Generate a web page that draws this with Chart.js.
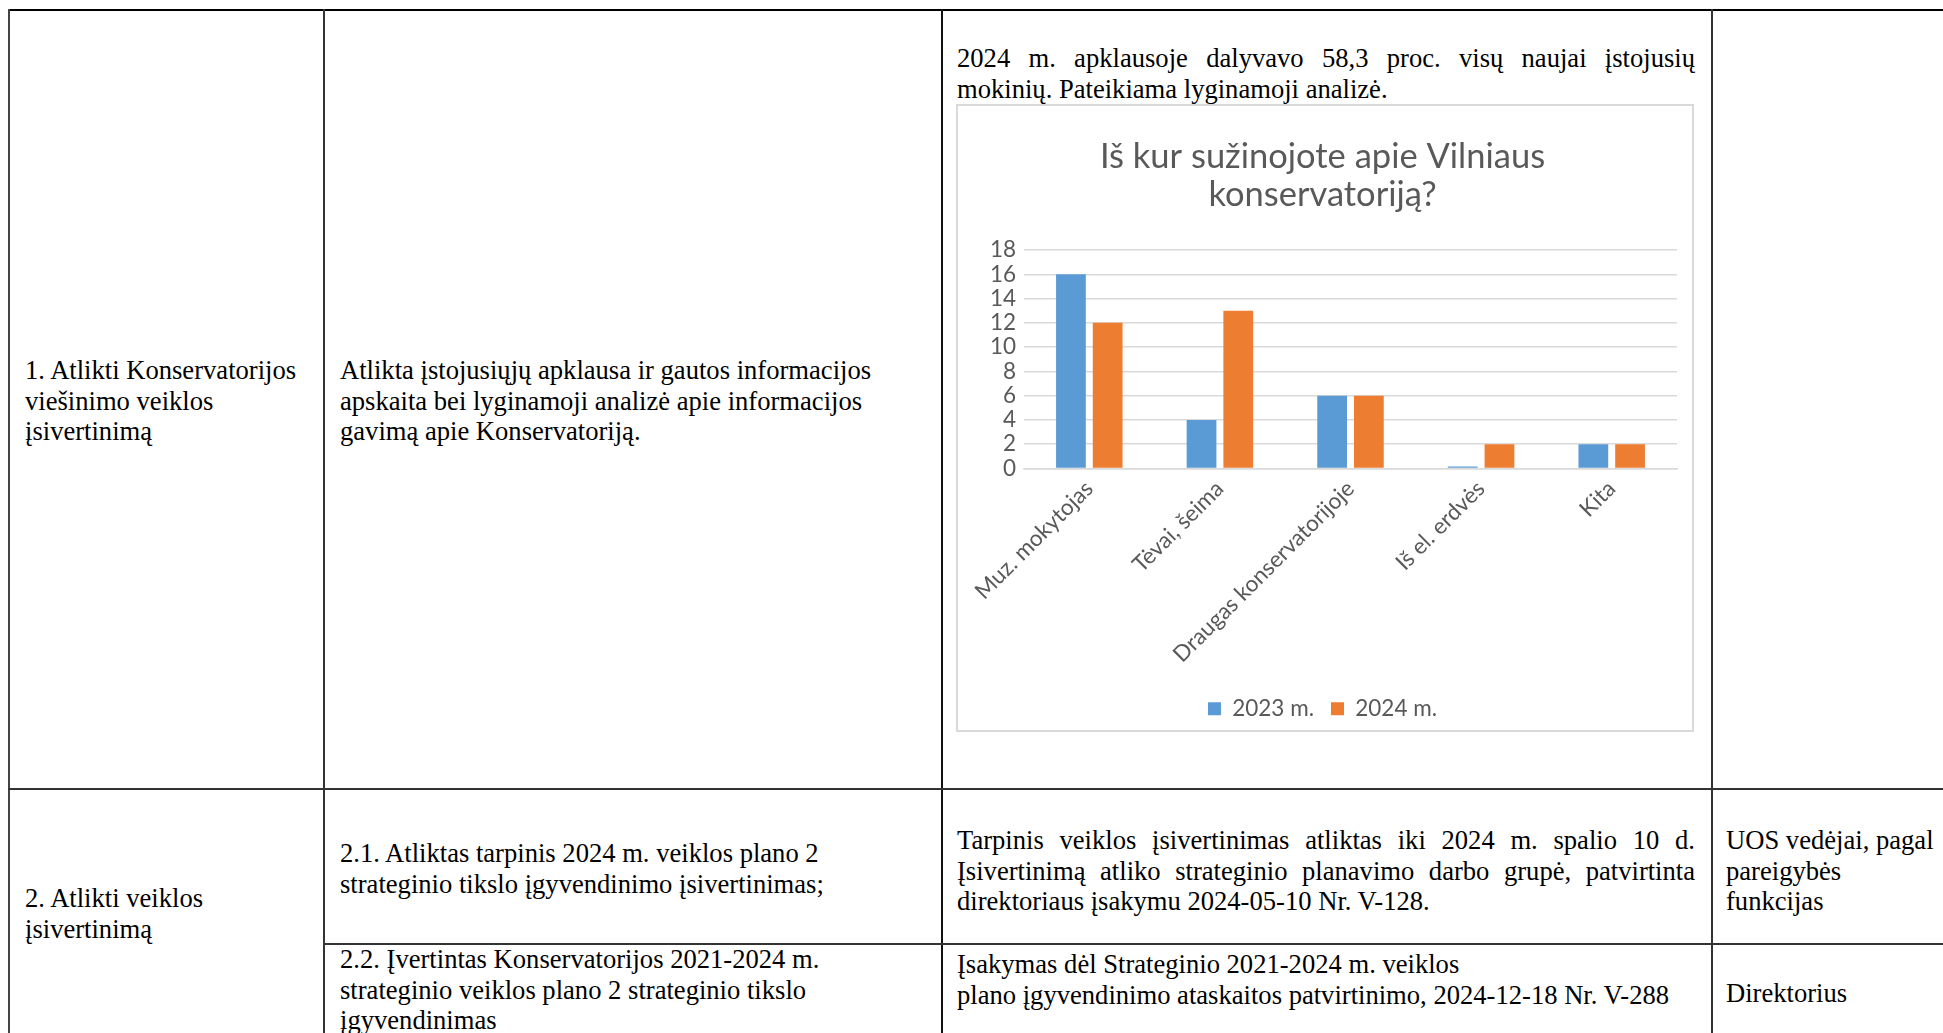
<!DOCTYPE html>
<html lang="lt">
<head>
<meta charset="utf-8">
<script src="https://cdn.jsdelivr.net/npm/chart.js@4.4.1/dist/chart.umd.min.js"></script>
<style>
  html, body { margin: 0; padding: 0; background: #fff; }
  body { width: 1943px; height: 1033px; overflow: hidden; position: relative; }
  .ln { position: absolute; background: #333; }
  .tx { position: absolute; font-family: "Liberation Serif", "Times New Roman", serif; font-size: 26.6px; line-height: 30.6px; color: #000; white-space: nowrap; }
  .jf { text-align: justify; text-align-last: justify; white-space: normal; }
  #chartBorder { position: absolute; left: 956px; top: 104px; width: 738px; height: 628px; box-sizing: border-box; border: 2px solid #d9d9d9; pointer-events: none; }
  #chartWrap { position: absolute; left: 958px; top: 106px; width: 734px; height: 624px; }
</style>
</head>
<body>
<!-- table grid lines -->
<div class="ln" style="left:8px; top:9px; width:1935px; height:2px; background:#000;"></div>
<div class="ln" style="left:8px; top:9px; width:2px; height:1024px; background:#444;"></div>
<div class="ln" style="left:323px; top:9px; width:2px; height:1024px;"></div>
<div class="ln" style="left:941px; top:9px; width:2px; height:1024px; background:#111;"></div>
<div class="ln" style="left:1711px; top:9px; width:2px; height:1024px;"></div>
<div class="ln" style="left:8px; top:788px; width:1935px; height:2px;"></div>
<div class="ln" style="left:323px; top:943px; width:1620px; height:2px;"></div>

<!-- row 1 -->
<div class="tx" style="left:25px; top:355px;">1. Atlikti Konservatorijos<br>viešinimo veiklos<br>įsivertinimą</div>
<div class="tx" style="left:340px; top:355px;">Atlikta įstojusiųjų apklausa ir gautos informacijos<br>apskaita bei lyginamoji analizė apie informacijos<br>gavimą apie Konservatoriją.</div>
<div class="tx jf" style="left:957px; top:43px; width:738px;">2024 m. apklausoje dalyvavo 58,3 proc. visų naujai įstojusių</div>
<div class="tx" style="left:957px; top:73.6px;">mokinių. Pateikiama lyginamoji analizė.</div>

<!-- row 2 -->
<div class="tx" style="left:25px; top:883px;">2. Atlikti veiklos<br>įsivertinimą</div>
<div class="tx" style="left:340px; top:838px;">2.1. Atliktas tarpinis 2024 m. veiklos plano 2<br>strateginio tikslo įgyvendinimo įsivertinimas;</div>
<div class="tx jf" style="left:957px; top:825px; width:738px;">Tarpinis veiklos įsivertinimas atliktas iki 2024 m. spalio 10 d.</div>
<div class="tx jf" style="left:957px; top:855.6px; width:738px;">Įsivertinimą atliko strateginio planavimo darbo grupė, patvirtinta</div>
<div class="tx" style="left:957px; top:886.2px;">direktoriaus įsakymu 2024-05-10 Nr. V-128.</div>
<div class="tx" style="left:1726px; top:825px;">UOS vedėjai, pagal<br>pareigybės<br>funkcijas</div>
<div class="tx" style="left:340px; top:944px;">2.2. Įvertintas Konservatorijos 2021-2024 m.<br>strateginio veiklos plano 2 strateginio tikslo<br>įgyvendinimas</div>
<div class="tx" style="left:957px; top:949px;">Įsakymas dėl Strateginio 2021-2024 m. veiklos<br>plano įgyvendinimo ataskaitos patvirtinimo, 2024-12-18 Nr. V-288</div>
<div class="tx" style="left:1726px; top:978px;">Direktorius</div>

<div id="chartWrap"><canvas id="c"></canvas></div>
<div id="chartBorder"></div>

<script>
const chartTitle = ["Iš kur sužinojote apie Vilniaus", "konservatoriją?"];
const categories = ["Muz. mokytojas", "Tėvai, šeima", "Draugas konservatorijoje", "Iš el. erdvės", "Kita"];
const seriesNames = ["2023 m.", "2024 m."];
const values2023 = [16, 4, 6, 0, 2];
const values2024 = [12, 13, 6, 2, 2];
const yMin = 0, yMax = 18, yStep = 2;

const gray = "#595959";
const fontFam = "Lato, 'Open Sans', sans-serif";

new Chart(document.getElementById("c"), {
  type: "bar",
  data: {
    labels: categories,
    datasets: [
      { label: seriesNames[0], data: values2023, backgroundColor: "#5B9BD5", minBarLength: 2,
        categoryPercentage: 0.5625, barPercentage: 0.81 },
      { label: seriesNames[1], data: values2024, backgroundColor: "#ED7D31",
        categoryPercentage: 0.5625, barPercentage: 0.81 }
    ]
  },
  options: {
    responsive: true,
    maintainAspectRatio: false,
    animation: false,
    devicePixelRatio: 1,
    layout: { padding: { left: 10, right: 15, top: 0, bottom: 0 } },
    plugins: {
      title: {
        display: true,
        text: chartTitle,
        color: gray,
        font: { family: fontFam, size: 34.5, weight: "normal", lineHeight: 38 / 34.5 },
        padding: { top: 32, bottom: 36 }
      },
      legend: {
        position: "bottom",
        labels: {
          color: gray,
          font: { family: fontFam, size: 22.5 },
          boxWidth: 13, boxHeight: 13,
          padding: 17
        }
      },
      tooltip: { enabled: false }
    },
    scales: {
      x: {
        grid: { display: false, drawTicks: false },
        border: { display: true, color: "#d9d9d9", width: 1.5 },
        ticks: {
          color: gray,
          font: { family: fontFam, size: 22.5 },
          minRotation: 45, maxRotation: 45,
          autoSkip: false,
          padding: 7
        },
        afterFit: (s) => { s.height = 212; }
      },
      y: {
        min: yMin, max: yMax,
        grid: { color: "#d9d9d9", lineWidth: 1.5, drawTicks: false },
        border: { display: false },
        ticks: {
          stepSize: yStep,
          autoSkip: false,
          color: gray,
          font: { family: fontFam, size: 22.5, lineHeight: 1 },
          padding: 8
        },
        afterFit: (s) => { s.width = 56; }
      }
    }
  }
});
</script>
</body>
</html>
